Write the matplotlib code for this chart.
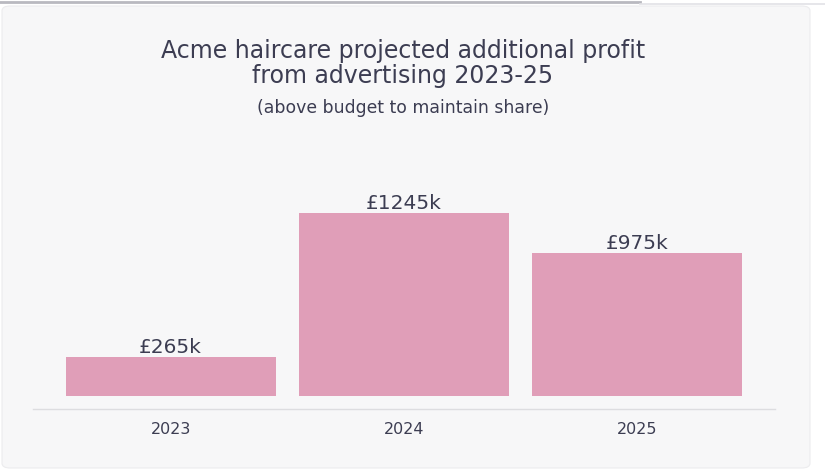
import matplotlib
matplotlib.use("Agg")
import matplotlib.pyplot as plt
from matplotlib.patches import FancyBboxPatch
from matplotlib.lines import Line2D

years = ["2023", "2024", "2025"]
profit_k = [265, 1245, 975]

BG = "#f7f7f8"
BAR = "#e09eb8"
INK = "#3c3d52"

plt.rcParams["font.family"] = ["DejaVu Sans"]

W, H = 825, 472
fig = plt.figure(figsize=(W / 100, H / 100), dpi=100)
fig.patch.set_facecolor("white")

# card behind the chart
card = FancyBboxPatch((2 / W, 4 / H), 808 / W, 462 / H,
                      boxstyle="round,pad=0,rounding_size=0.01",
                      transform=fig.transFigure, facecolor=BG,
                      edgecolor="#ececee", linewidth=0.8, zorder=-1)
fig.patches.append(card)
fig.add_artist(Line2D([0, 640 / W], [1 - 1.5 / H, 1 - 1.5 / H],
                      transform=fig.transFigure, color="#b9b9c0", lw=2))
fig.add_artist(Line2D([640 / W, 1], [1 - 3.5 / H, 1 - 3.5 / H],
                      transform=fig.transFigure, color="#e2e2e6", lw=1.2))

# axes in pixel terms: x 33..775, y 150..409 (from top)
ax = fig.add_axes([33 / W, 1 - 409 / H, 742 / W, 259 / H])
ax.set_facecolor("none")
ax.set_zorder(1)

x = range(len(years))
bars = ax.bar(x, profit_k, width=0.9, color=BAR, zorder=2)

for xi, v in zip(x, profit_k):
    ax.annotate(f"£{v}k", (xi, v), xytext=(0, 0), textcoords="offset points",
                ha="center", va="bottom", fontsize=14.5, color=INK)

ax.set_xlim(-0.59, 2.59)
ax.set_ylim(-88, 1674)
ax.set_xticks(list(x))
ax.set_xticklabels(years, fontsize=11.5, color=INK)
ax.tick_params(axis="x", length=0, pad=9)
ax.set_yticks([])
for s in ["top", "right", "left"]:
    ax.spines[s].set_visible(False)
ax.spines["bottom"].set_color("#dddde0")
ax.spines["bottom"].set_linewidth(1)

cx = 403 / W
fig.text(cx, 1 - 83 / H, "Acme haircare projected additional profit\nfrom advertising 2023-25",
         ha="center", va="baseline", fontsize=17, color=INK, linespacing=1.05)
fig.text(cx, 1 - 113 / H, "(above budget to maintain share)",
         ha="center", va="baseline", fontsize=12.4, color=INK)

fig.savefig("out.png", dpi=100, facecolor=fig.get_facecolor())
